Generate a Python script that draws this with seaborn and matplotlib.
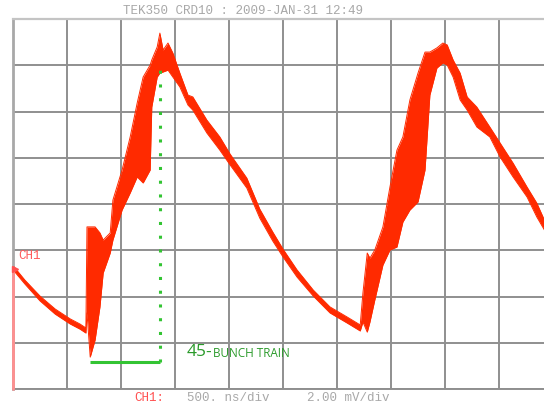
import numpy as np
import pandas as pd
import matplotlib
matplotlib.use("Agg")
import matplotlib.pyplot as plt
import seaborn as sns

# ---- data (time in ns, voltage in mV) ----
time_ns = [10, 110, 250, 390, 530, 620, 675,
           685, 715, 760, 805, 835, 900, 925, 1010, 1085, 1150, 1205, 1270,
           1285, 1335, 1360, 1390, 1435, 1480, 1545, 1620,
           1665, 1795, 1915, 2010, 2165, 2285, 2405, 2500, 2630, 2780, 2935,
           3095, 3215,
           3240, 3280, 3305, 3350, 3425, 3490, 3555, 3610, 3675, 3750, 3815,
           3860, 3925, 3980, 4020, 4075, 4140,
           4205, 4295, 4415, 4510, 4630, 4760, 4850, 4920]
upper_mv = [5.28, 4.71, 4.02, 3.46, 3.03, 2.81, 2.64,
            7.01, 7.01, 7.01, 6.75, 6.44, 6.75, 8.17, 9.47, 10.90, 12.37, 13.49, 14.01,
            14.23, 14.79, 15.39, 14.66, 14.96, 14.53, 13.66, 12.71,
            12.63, 11.63, 10.90, 10.16, 9.12, 7.78, 6.79, 6.05, 5.15, 4.28, 3.55,
            3.11, 2.77,
            4.15, 5.88, 5.66, 6.01, 7.01, 8.73, 10.33, 10.90, 12.50, 13.66, 14.57,
            14.57, 14.75, 14.96, 14.88, 14.23, 13.66,
            12.63, 12.19, 11.33, 10.64, 9.77, 8.73, 8.04, 7.31]
lower_mv = [5.10, 4.54, 3.81, 3.24, 2.81, 2.59, 2.42,
            3.29, 1.38, 2.12, 3.55, 5.02, 5.88, 6.44, 7.74, 8.48, 9.17, 8.91, 9.47,
            12.19, 13.49, 13.66, 13.71, 13.79, 13.49, 13.06, 12.28,
            12.06, 11.07, 10.33, 9.69, 8.69, 7.39, 6.40, 5.71, 4.84, 4.02, 3.29,
            2.85, 2.51,
            2.90, 2.46, 2.90, 3.85, 5.36, 6.01, 6.14, 7.22, 7.74, 8.09, 9.47,
            12.71, 13.88, 14.10, 14.01, 13.49, 12.50,
            12.06, 11.33, 10.90, 10.03, 9.17, 8.30, 7.44, 6.88]

ch1_ground_mv = 5.2
train_start_ns = 713
train_end_ns = 1361
train_level_mv = 1.17
train_top_mv = 13.8

header_text = "TEK350 CRD10 : 2009-JAN-31 12:49"
ch_label = "CH1"
timebase_text = "500. ns/div"
volts_text = "2.00 mV/div"

df = pd.DataFrame({"t": time_ns, "hi": upper_mv, "lo": lower_mv})

sns.set_theme(style="white")
plt.rcParams["font.family"] = ["Liberation Mono", "DejaVu Sans Mono"]

fig = plt.figure(figsize=(5.44, 4.04), dpi=100)
ax = fig.add_axes([13 / 544, 15 / 404, 540 / 544, 370 / 404])

trace = "#ff2a00"
ax.fill_between(df["t"], df["lo"], df["hi"], color=trace, lw=0, zorder=3)
sns.lineplot(data=df, x="t", y="hi", ax=ax, color=trace, lw=0.7, zorder=3)
sns.lineplot(data=df, x="t", y="lo", ax=ax, color=trace, lw=0.7, zorder=3)

ax.set_xlim(0, 5000)
ax.set_ylim(0, 16)
ax.set_xticks(np.arange(0, 5001, 500))
ax.set_yticks(np.arange(0, 16.1, 2))
ax.grid(True, color="#8f8f8f", lw=1.4, zorder=0)
ax.tick_params(length=0, labelbottom=False, labelleft=False)
ax.set_xlabel("")
ax.set_ylabel("")
ax.spines["right"].set_visible(False)
ax.spines["top"].set_color("#c4c4c4")
ax.spines["top"].set_linewidth(1.6)
ax.spines["left"].set_color("#a8a8a8")
ax.spines["left"].set_linewidth(2)
ax.spines["bottom"].set_color("#8f8f8f")
ax.spines["bottom"].set_linewidth(1.4)

# channel ground marker
ax.plot([0, 0], [0, ch1_ground_mv], color="#ff9090", lw=2, zorder=4, clip_on=False)
ax.plot([18], [ch1_ground_mv], marker=">", ms=4, color="#ff5050", zorder=5, clip_on=False)
ax.text(50, 5.75, ch_label, color="#ff5a5a", fontsize=9, va="center", ha="left")

# annotation
green = "#33c433"
ax.plot([train_start_ns, train_end_ns], [train_level_mv, train_level_mv],
        color=green, lw=2.2, zorder=6, solid_capstyle="butt")
ax.plot([train_end_ns, train_end_ns], [train_level_mv, train_top_mv],
        color=green, lw=2.2, ls=(0, (1, 3.5)), zorder=6)
t45 = ax.text(1611, 1.6, "45-", color="#2a9a2a", fontsize=12.5,
              family=["Open Sans", "DejaVu Sans"], va="center", ha="left")
ax.annotate("BUNCH TRAIN", xy=(1, 0.42), xycoords=t45, xytext=(0.5, 0),
            textcoords="offset points", color="#2a9a2a", fontsize=8.5,
            family=["Open Sans", "DejaVu Sans"], va="center", ha="left")

# screen header/footer text
fig.text(123 / 544, 1 - 11 / 404, header_text, color="#a8a8a8", fontsize=9,
         va="center", ha="left")
fig.text(134 / 544, 1 - 398 / 404, ch_label + ":", color="#ff5050", fontsize=9,
         va="center", ha="left")
fig.text(187 / 544, 1 - 398 / 404, timebase_text, color="#a8a8a8", fontsize=9,
         va="center", ha="left")
fig.text(307 / 544, 1 - 398 / 404, volts_text, color="#a8a8a8", fontsize=9,
         va="center", ha="left")

fig.savefig("out.png", dpi=100, facecolor="white")
